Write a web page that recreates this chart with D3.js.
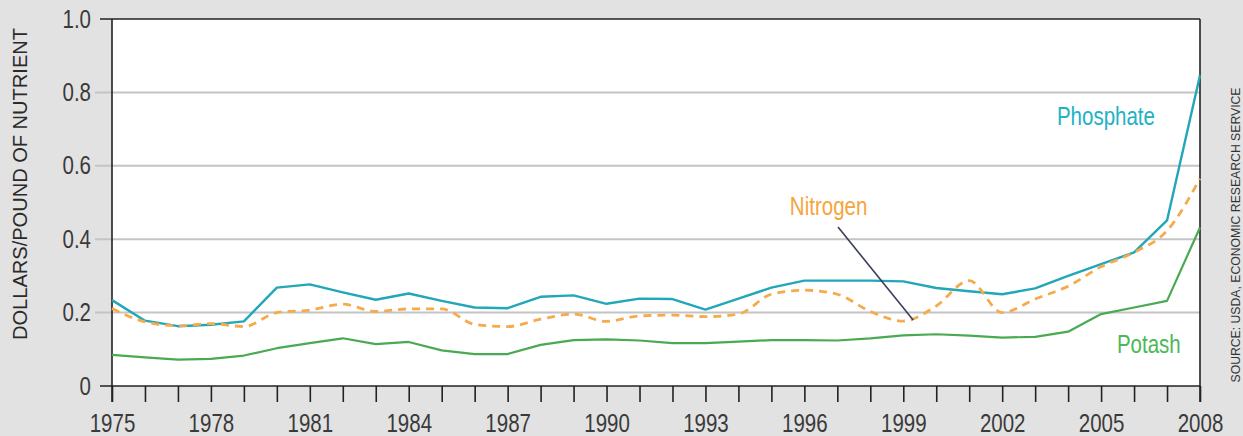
<!DOCTYPE html>
<html>
<head>
<meta charset="utf-8">
<script src="https://cdn.jsdelivr.net/npm/d3@7"></script>
<style>
  html, body { margin: 0; padding: 0; background: #e2e2e2; }
  svg { display: block; font-family: "Liberation Sans", Arial, sans-serif; }
</style>
</head>
<body>
<div id="chart"></div>
<script>
// data, dollars per pound of nutrient
const years = d3.range(1975, 2009);
const phosphate = [0.234, 0.178, 0.163, 0.167, 0.176, 0.268, 0.277, 0.255, 0.235, 0.252, 0.232, 0.214,
  0.212, 0.243, 0.247, 0.224, 0.238, 0.237, 0.208, 0.238, 0.268, 0.287, 0.287, 0.287,
  0.285, 0.267, 0.258, 0.25, 0.266, 0.30, 0.332, 0.364, 0.451, 0.847];
const nitrogen = [0.211, 0.175, 0.164, 0.17, 0.162, 0.2, 0.207, 0.223, 0.203, 0.21, 0.21, 0.168,
  0.162, 0.182, 0.196, 0.176, 0.191, 0.193, 0.189, 0.196, 0.25, 0.261, 0.25, 0.203,
  0.177, 0.218, 0.287, 0.2, 0.237, 0.272, 0.325, 0.364, 0.423, 0.565];
const potash = [0.085, 0.078, 0.072, 0.074, 0.083, 0.103, 0.117, 0.13, 0.114, 0.12, 0.097, 0.087,
  0.087, 0.112, 0.125, 0.127, 0.124, 0.117, 0.117, 0.121, 0.125, 0.125, 0.124, 0.13,
  0.138, 0.141, 0.137, 0.132, 0.134, 0.148, 0.196, 0.214, 0.232, 0.432];
const yTicks = [0, 0.2, 0.4, 0.6, 0.8, 1.0];
const yearLabels = [1975, 1978, 1981, 1984, 1987, 1990, 1993, 1996, 1999, 2002, 2005, 2008];

const width = 1243, height = 436;
const m = { left: 112, right: 1200, top: 19, bottom: 386 };
const squeeze = 0.82; // no narrow font installed, so squash the regular one

const svg = d3.select('#chart').append('svg')
  .attr('width', width).attr('height', height);

const x = d3.scaleLinear().domain([1975, 2008]).range([m.left, m.right]);
const y = d3.scaleLinear().domain([0, 1]).range([m.bottom, m.top]);

// plot background
svg.append('rect')
  .attr('x', m.left).attr('y', m.top)
  .attr('width', m.right - m.left).attr('height', m.bottom - m.top)
  .attr('fill', '#fff');

// grid lines
svg.append('g').selectAll('line')
  .data(yTicks.filter(d => d > 0 && d < 1))
  .join('line')
  .attr('x1', m.left - 17).attr('x2', m.right)
  .attr('y1', d => y(d)).attr('y2', d => y(d))
  .attr('stroke', '#c4c4c4').attr('stroke-width', 2);

// y labels
const yAxis = d3.axisLeft(y).tickValues(yTicks).tickSize(0).tickPadding(21)
  .tickFormat(d => d === 0 ? '0' : d3.format('.1f')(d));
svg.append('g').attr('transform', `translate(${m.left},0)`).call(yAxis)
  .attr('font-family', null)
  .call(g => g.select('.domain').remove())
  .selectAll('text').attr('font-size', 25).attr('fill', '#3a3a3a')
  .attr('x', -21 / squeeze).attr('transform', `scale(${squeeze},1)`);

// x axis with yearly ticks
const xAxis = d3.axisBottom(x).tickValues(years).tickSize(16).tickPadding(12)
  .tickFormat(d => yearLabels.includes(d) ? d : '');
svg.append('g').attr('transform', `translate(0,${m.bottom})`).call(xAxis)
  .attr('font-family', null)
  .call(g => g.select('.domain').remove())
  .call(g => g.selectAll('line').attr('stroke', '#222').attr('stroke-width', 1.6))
  .selectAll('text').attr('font-size', 25).attr('fill', '#3a3a3a')
  .attr('transform', `scale(${squeeze},1)`);

// frame
const frame = svg.append('g').attr('stroke', '#222').attr('stroke-width', 1.6).attr('fill', 'none');
frame.append('line').attr('x1', m.left - 12).attr('x2', m.right).attr('y1', m.top).attr('y2', m.top);
frame.append('line').attr('x1', m.left - 12).attr('x2', m.right).attr('y1', m.bottom).attr('y2', m.bottom);
frame.append('line').attr('x1', m.left).attr('x2', m.left).attr('y1', m.top).attr('y2', m.bottom + 16);
frame.append('line').attr('x1', m.right).attr('x2', m.right).attr('y1', m.top).attr('y2', m.bottom + 16);

// series
const line = curve => d3.line()
  .x((d, i) => x(years[i]))
  .y(d => y(d))
  .curve(curve);

svg.append('path').datum(potash).attr('d', line(d3.curveLinear))
  .attr('fill', 'none').attr('stroke', '#4aaa52').attr('stroke-width', 2.2)
  .attr('stroke-linejoin', 'round');
svg.append('path').datum(phosphate).attr('d', line(d3.curveLinear))
  .attr('fill', 'none').attr('stroke', '#22a7b8').attr('stroke-width', 2.4)
  .attr('stroke-linejoin', 'round');
svg.append('path').datum(nitrogen).attr('d', line(d3.curveMonotoneX))
  .attr('fill', 'none').attr('stroke', '#f5ab4c').attr('stroke-width', 2.8)
  .attr('stroke-dasharray', '8,6');

// annotations
svg.append('line')
  .attr('x1', x(1997.02)).attr('y1', y(0.433))
  .attr('x2', x(1999.3)).attr('y2', y(0.18))
  .attr('stroke', '#3b3e5a').attr('stroke-width', 1.6);

const labels = [
  { text: 'Phosphate', year: 2003.66, value: 0.711, color: '#20b2c5' },
  { text: 'Nitrogen', year: 1995.56, value: 0.466, color: '#f5a53c' },
  { text: 'Potash', year: 2005.48, value: 0.09, color: '#4cb855' }
];
svg.append('g').selectAll('text').data(labels).join('text')
  .attr('transform', d => `translate(${x(d.year)},${y(d.value)}) scale(${squeeze},1)`)
  .attr('fill', d => d.color).attr('font-size', 25)
  .text(d => d.text);

// axis title
svg.append('text')
  .attr('transform', `translate(27,184) rotate(-90)`)
  .attr('text-anchor', 'middle')
  .attr('font-size', 21).attr('fill', '#2a2a2a')
  .attr('textLength', 312).attr('lengthAdjust', 'spacingAndGlyphs')
  .text('DOLLARS/POUND OF NUTRIENT');

// source
svg.append('text')
  .attr('transform', `translate(1240,235) rotate(-90)`)
  .attr('text-anchor', 'middle')
  .attr('font-size', 12).attr('fill', '#333')
  .attr('textLength', 295).attr('lengthAdjust', 'spacingAndGlyphs')
  .text('SOURCE: USDA, ECONOMIC RESEARCH SERVICE');
</script>
</body>
</html>
